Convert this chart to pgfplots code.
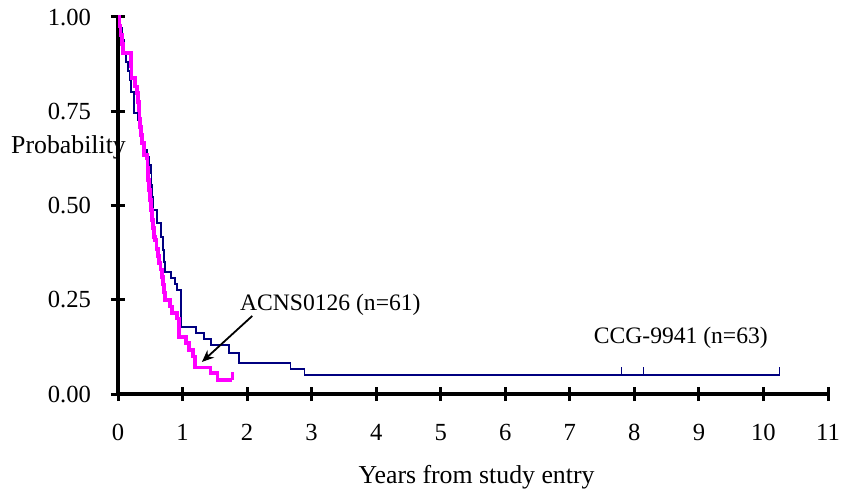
\documentclass[border=0pt]{standalone}
\usepackage{fontspec}
\setmainfont{Liberation Serif}
\usepackage{pgfplots}
\pgfplotsset{compat=1.18}
\usetikzlibrary{arrows.meta}
\definecolor{kmblue}{RGB}{0,0,128}
\definecolor{kmpink}{RGB}{255,0,255}

\begin{document}
\fontsize{12.9bp}{15bp}\selectfont
\begin{tikzpicture}
\useasboundingbox (-59bp,-48.5bp) rectangle (364.5bp,197bp);
\begin{axis}[
    scale only axis,
    width=355bp, height=188.5bp,
    xmin=0, xmax=11, ymin=0, ymax=1,
    axis lines=left,
    axis line style={-, line width=1.6bp, black},
    xtick={0,1,...,11},
    ytick={0,0.25,0.5,0.75,1},
    tick align=center,
    major tick length=7bp,
    tick style={line width=1.5bp, black},
    /pgf/number format/assume math mode=true,
    ticklabel style={font=\fontsize{12.3bp}{14bp}\selectfont},
    yticklabel style={/pgf/number format/fixed, /pgf/number format/fixed zerofill,
        /pgf/number format/precision=2, anchor=east, xshift=-5.5bp},
    xticklabel style={anchor=base, yshift=-19.75bp},
    clip=false,
]
% CCG-9941
\addplot[kmblue, line width=0.85bp, const plot] coordinates {
    (0,1.0) (0.03,0.971) (0.06,0.939) (0.09,0.907) (0.12,0.881)
    (0.155,0.857) (0.186,0.833) (0.202,0.801) (0.248,0.745)
    (0.311,0.727) (0.342,0.700) (0.373,0.674) (0.388,0.647)
    (0.45,0.629) (0.481,0.607) (0.512,0.586) (0.520,0.554)
    (0.528,0.523) (0.543,0.488) (0.606,0.454) (0.668,0.416)
    (0.699,0.382) (0.715,0.350) (0.730,0.324) (0.823,0.308)
    (0.885,0.292) (0.916,0.276) (0.978,0.178) (1.211,0.162)
    (1.335,0.146) (1.444,0.130) (1.724,0.109) (1.879,0.082)
    (2.671,0.066) (2.888,0.050) (10.25,0.050)
};
\addplot[kmblue, line width=0.85bp, unbounded coords=jump] coordinates {
    (7.80,0.05) (7.80,0.071) (7.9,nan)
    (8.14,0.05) (8.14,0.071) (8.2,nan)
    (10.25,0.05) (10.25,0.071)
};
% ACNS0126
\addplot[kmpink, line width=1.7bp, const plot] coordinates {
    (0,1.0) (0.02,0.976) (0.04,0.952) (0.06,0.928) (0.078,0.905)
    (0.202,0.870) (0.21,0.838) (0.264,0.816) (0.295,0.798)
    (0.31,0.775) (0.326,0.753) (0.334,0.730) (0.342,0.708)
    (0.358,0.687) (0.373,0.666) (0.404,0.634) (0.45,0.626)
    (0.458,0.600) (0.466,0.568) (0.48,0.541) (0.497,0.515)
    (0.51,0.488) (0.528,0.462) (0.545,0.440) (0.559,0.416)
    (0.575,0.408) (0.60,0.385) (0.62,0.366) (0.637,0.347)
    (0.66,0.330) (0.683,0.310) (0.70,0.290) (0.715,0.270)
    (0.730,0.249) (0.807,0.232) (0.839,0.215) (0.916,0.200)
    (0.947,0.151) (1.056,0.135) (1.10,0.117) (1.165,0.100)
    (1.196,0.070) (1.429,0.056) (1.537,0.037) (1.77,0.037)
};
\addplot[kmpink, line width=1.7bp] coordinates {(1.77,0.037) (1.77,0.058)};

\node[anchor=center] at (rel axis cs:-0.0697,0.655) {Probability};
\node[anchor=base, yshift=-44.5bp] at (rel axis cs:0.505,0) {Years from study entry};
\node[font=\fontsize{11.8bp}{14bp}\selectfont] at (axis cs:3.29,0.236) {ACNS0126 (n=61)};
\node[font=\fontsize{11.8bp}{14bp}\selectfont] at (axis cs:8.72,0.149) {CCG-9941 (n=63)};
\draw[line width=0.9bp, -{Stealth[length=6bp,width=5bp]}] (axis cs:2.08,0.207) -- (axis cs:1.30,0.085);
\end{axis}
\end{tikzpicture}
\end{document}
